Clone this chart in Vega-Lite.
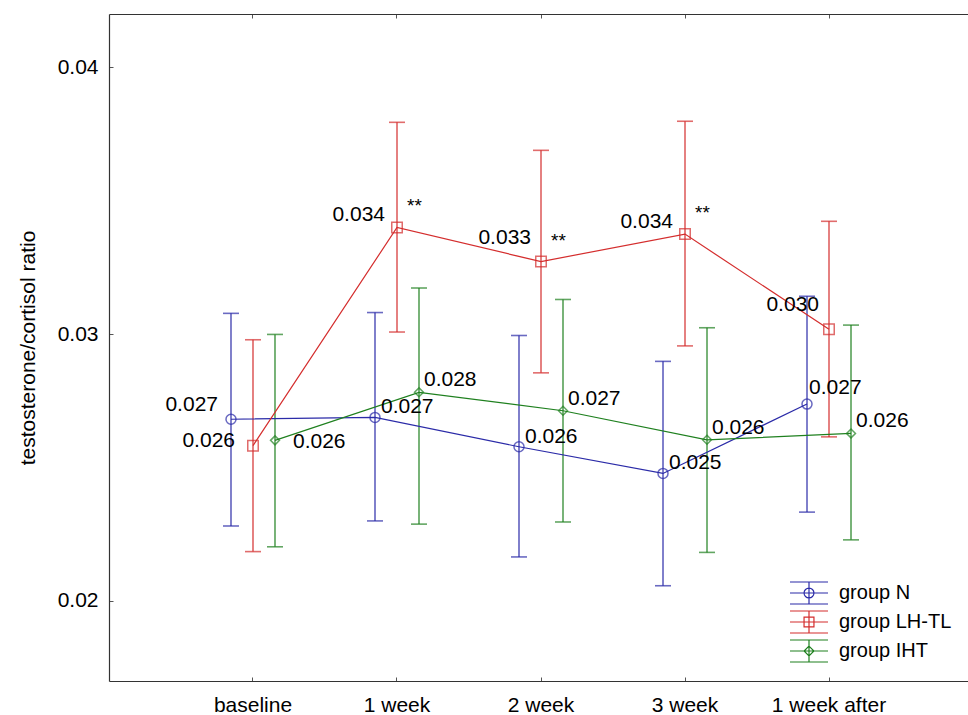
{
  "$schema": "https://vega.github.io/schema/vega-lite/v6.json",
  "width": 859,
  "height": 667,
  "autosize": {"type": "none"},
  "padding": {"left": 109, "top": 14, "right": 0, "bottom": 34},
  "background": "white",
  "config": {
    "view": {"stroke": null},
    "font": "Liberation Sans",
    "axis": {"domainColor": "#333333", "domainWidth": 1.2, "tickColor": "#555555", "labelColor": "#000000", "labelFont": "Liberation Sans", "labelFontSize": 21, "titleFont": "Liberation Sans", "titleFontSize": 21, "titleFontWeight": "normal", "titleColor": "#000000", "grid": false}
  },
  "data": {
    "values": [
      {"group": "group N", "time": "baseline", "mean": 0.02681, "lo": 0.02281, "hi": 0.03078, "sig": ""},
      {"group": "group N", "time": "1 week", "mean": 0.02688, "lo": 0.02300, "hi": 0.03081, "sig": ""},
      {"group": "group N", "time": "2 week", "mean": 0.02578, "lo": 0.02165, "hi": 0.02995, "sig": ""},
      {"group": "group N", "time": "3 week", "mean": 0.02478, "lo": 0.02057, "hi": 0.02898, "sig": ""},
      {"group": "group N", "time": "1 week after", "mean": 0.02738, "lo": 0.02333, "hi": 0.03142, "sig": ""},
      {"group": "group LH-TL", "time": "baseline", "mean": 0.02582, "lo": 0.02185, "hi": 0.02979, "sig": ""},
      {"group": "group LH-TL", "time": "1 week", "mean": 0.03400, "lo": 0.03008, "hi": 0.03794, "sig": "**"},
      {"group": "group LH-TL", "time": "2 week", "mean": 0.03272, "lo": 0.02855, "hi": 0.03689, "sig": "**"},
      {"group": "group LH-TL", "time": "3 week", "mean": 0.03375, "lo": 0.02956, "hi": 0.03798, "sig": "**"},
      {"group": "group LH-TL", "time": "1 week after", "mean": 0.03018, "lo": 0.02615, "hi": 0.03423, "sig": ""},
      {"group": "group IHT", "time": "baseline", "mean": 0.02602, "lo": 0.02203, "hi": 0.02999, "sig": ""},
      {"group": "group IHT", "time": "1 week", "mean": 0.02782, "lo": 0.02288, "hi": 0.03173, "sig": ""},
      {"group": "group IHT", "time": "2 week", "mean": 0.02713, "lo": 0.02296, "hi": 0.03130, "sig": ""},
      {"group": "group IHT", "time": "3 week", "mean": 0.02604, "lo": 0.02182, "hi": 0.03024, "sig": ""},
      {"group": "group IHT", "time": "1 week after", "mean": 0.02628, "lo": 0.02229, "hi": 0.03034, "sig": ""}
    ]
  },
  "encoding": {
    "x": {"field": "time", "type": "nominal", "sort": ["baseline", "1 week", "2 week", "3 week", "1 week after"], "scale": {"domain": ["baseline", "1 week", "2 week", "3 week", "1 week after"], "paddingInner": 0, "paddingOuter": 0.4826, "align": 0.518}, "axis": null},
    "xOffset": {"field": "group", "type": "nominal", "scale": {"type": "point", "domain": ["group N", "group LH-TL", "group IHT"], "range": [50, 94], "padding": 0}},
    "y": {"field": "mean", "type": "quantitative", "scale": {"domain": [0.017, 0.042], "nice": false, "zero": false}, "axis": {"title": "testosterone/cortisol ratio", "values": [0.02, 0.03, 0.04], "format": ".2f", "tickSize": -4, "labelPadding": 15, "titlePadding": 19}}
  },
  "resolve": {"axis": {"x": "independent"}},
  "layer": [
    {
      "mark": {"type": "rule", "strokeWidth": 1.2},
      "encoding": {
        "x": {"field": "time", "type": "nominal", "sort": ["baseline", "1 week", "2 week", "3 week", "1 week after"], "scale": {"domain": ["baseline", "1 week", "2 week", "3 week", "1 week after"], "paddingInner": 0, "paddingOuter": 0.4826, "align": 0.518}, "axis": {"orient": "bottom", "title": null, "labelAngle": 0, "tickSize": -4, "labelPadding": 17}},
        "y": {"field": "lo", "type": "quantitative"},
        "y2": {"field": "hi"},
        "stroke": {"field": "group", "type": "nominal", "scale": {"domain": ["group IHT", "group LH-TL", "group N"], "range": ["#1f801f", "#d42d2d", "#2b2ba8"]}, "legend": null}
      }
    },
    {
      "mark": {"type": "tick", "orient": "horizontal", "size": 16, "thickness": 1.6},
      "encoding": {
        "y": {"field": "lo", "type": "quantitative"},
        "fill": {"field": "group", "type": "nominal", "scale": {"domain": ["group LH-TL", "group IHT", "group N"], "range": ["#d42d2d", "#1f801f", "#2b2ba8"]}, "legend": null}
      }
    },
    {
      "mark": {"type": "tick", "orient": "horizontal", "size": 16, "thickness": 1.6},
      "encoding": {
        "y": {"field": "hi", "type": "quantitative"},
        "fill": {"field": "group", "type": "nominal", "scale": {"domain": ["group LH-TL", "group IHT", "group N"], "range": ["#d42d2d", "#1f801f", "#2b2ba8"]}, "legend": null}
      }
    },
    {
      "mark": {"type": "line", "strokeWidth": 1.2},
      "encoding": {
        "x": {"field": "time", "type": "nominal", "sort": ["baseline", "1 week", "2 week", "3 week", "1 week after"], "scale": {"domain": ["baseline", "1 week", "2 week", "3 week", "1 week after"], "paddingInner": 0, "paddingOuter": 0.4826, "align": 0.518}, "axis": {"orient": "top", "title": null, "labels": false, "tickSize": -4}},
        "stroke": {"field": "group", "type": "nominal", "scale": {"domain": ["group IHT", "group LH-TL", "group N"], "range": ["#1f801f", "#d42d2d", "#2b2ba8"]}, "legend": null}
      }
    },
    {
      "transform": [{"filter": "datum.group === 'group N'"}],
      "mark": {"type": "point", "shape": "circle", "filled": false, "size": 100, "strokeWidth": 1.5},
      "encoding": {"stroke": {"field": "group", "type": "nominal", "scale": {"domain": ["group IHT", "group LH-TL", "group N"], "range": ["#1f801f", "#d42d2d", "#2b2ba8"]}, "legend": null}}
    },
    {
      "transform": [{"filter": "datum.group === 'group LH-TL'"}],
      "mark": {"type": "point", "shape": "square", "filled": false, "size": 110, "strokeWidth": 1.5},
      "encoding": {"stroke": {"field": "group", "type": "nominal", "scale": {"domain": ["group IHT", "group LH-TL", "group N"], "range": ["#1f801f", "#d42d2d", "#2b2ba8"]}, "legend": null}}
    },
    {
      "transform": [{"filter": "datum.group === 'group IHT'"}],
      "mark": {"type": "point", "shape": "diamond", "filled": false, "size": 80, "strokeWidth": 1.5},
      "encoding": {"stroke": {"field": "group", "type": "nominal", "scale": {"domain": ["group IHT", "group LH-TL", "group N"], "range": ["#1f801f", "#d42d2d", "#2b2ba8"]}, "legend": null}}
    },
    {
      "transform": [{"filter": "datum.group === 'group N' && (datum.time === '1 week' || datum.time === '2 week' || datum.time === '3 week')"}],
      "mark": {"type": "text", "align": "left", "baseline": "middle", "dx": 6, "dy": -10, "fontSize": 21, "color": "black"},
      "encoding": {"text": {"field": "mean", "type": "quantitative", "format": ".3f"}}
    },
    {
      "transform": [{"filter": "datum.group === 'group N' && datum.time === 'baseline'"}],
      "mark": {"type": "text", "align": "right", "baseline": "middle", "dx": -13, "dy": -14, "fontSize": 21, "color": "black"},
      "encoding": {"text": {"field": "mean", "type": "quantitative", "format": ".3f"}}
    },
    {
      "transform": [{"filter": "datum.group === 'group N' && datum.time === '1 week after'"}],
      "mark": {"type": "text", "align": "left", "baseline": "middle", "dx": 2, "dy": -16, "fontSize": 21, "color": "black"},
      "encoding": {"text": {"field": "mean", "type": "quantitative", "format": ".3f"}}
    },
    {
      "transform": [{"filter": "datum.group === 'group LH-TL' && (datum.time === '1 week' || datum.time === '3 week')"}],
      "mark": {"type": "text", "align": "right", "baseline": "middle", "dx": -12, "dy": -12, "fontSize": 21, "color": "black"},
      "encoding": {"text": {"field": "mean", "type": "quantitative", "format": ".3f"}}
    },
    {
      "transform": [{"filter": "datum.group === 'group LH-TL' && (datum.time === '2 week' || datum.time === '1 week after')"}],
      "mark": {"type": "text", "align": "right", "baseline": "middle", "dx": -10, "dy": -24, "fontSize": 21, "color": "black"},
      "encoding": {"text": {"field": "mean", "type": "quantitative", "format": ".3f"}}
    },
    {
      "transform": [{"filter": "datum.group === 'group LH-TL' && datum.time === 'baseline'"}],
      "mark": {"type": "text", "align": "right", "baseline": "middle", "dx": -18, "dy": -5, "fontSize": 21, "color": "black"},
      "encoding": {"text": {"field": "mean", "type": "quantitative", "format": ".3f"}}
    },
    {
      "transform": [{"filter": "datum.group === 'group IHT' && datum.time !== 'baseline'"}],
      "mark": {"type": "text", "align": "left", "baseline": "middle", "dx": 5, "dy": -12, "fontSize": 21, "color": "black"},
      "encoding": {"text": {"field": "mean", "type": "quantitative", "format": ".3f"}}
    },
    {
      "transform": [{"filter": "datum.group === 'group IHT' && datum.time === 'baseline'"}],
      "mark": {"type": "text", "align": "left", "baseline": "middle", "dx": 18, "dy": 2, "fontSize": 21, "color": "black"},
      "encoding": {"text": {"field": "mean", "type": "quantitative", "format": ".3f"}}
    },
    {
      "transform": [{"filter": "datum.sig !== ''"}],
      "mark": {"type": "text", "align": "left", "baseline": "middle", "dx": 10, "dy": -21, "fontSize": 19, "color": "black"},
      "encoding": {"text": {"field": "sig", "type": "nominal"}}
    },
    {
      "mark": {"type": "point", "filled": false, "opacity": 0},
      "encoding": {
        "color": {"field": "group", "type": "nominal", "scale": {"domain": ["group N", "group LH-TL", "group IHT"], "range": ["#2b2ba8", "#d42d2d", "#1f801f"]}, "legend": {"title": null, "orient": "none", "legendX": 688, "legendY": 567, "padding": 0, "symbolSize": 484, "symbolStrokeWidth": 1.2, "symbolOpacity": 1, "labelFontSize": 20, "labelFont": "Liberation Sans", "labelColor": "black", "labelOffset": 18, "rowPadding": 1}},
        "shape": {"field": "group", "type": "nominal", "scale": {"domain": ["group N", "group LH-TL", "group IHT"], "range": ["M-1.73,-1H1.73M-1.73,1H1.73M-1.73,0H1.73M0,-1V1M-0.45,0A0.45,0.45,0,1,0,0.45,0A0.45,0.45,0,1,0,-0.45,0", "M-1.73,-1H1.73M-1.73,1H1.73M-1.73,0H1.73M0,-1V1M-0.45,-0.45H0.45V0.45H-0.45Z", "M-1.73,-1H1.73M-1.73,1H1.73M-1.73,0H1.73M0,-1V1M0,-0.45L0.45,0L0,0.45L-0.45,0Z"]}, "legend": {"title": null, "orient": "none", "legendX": 688, "legendY": 567, "padding": 0, "symbolSize": 484, "symbolStrokeWidth": 1.2, "symbolOpacity": 1, "labelFontSize": 20, "labelFont": "Liberation Sans", "labelColor": "black", "labelOffset": 18, "rowPadding": 1}}
      }
    }
  ]
}
